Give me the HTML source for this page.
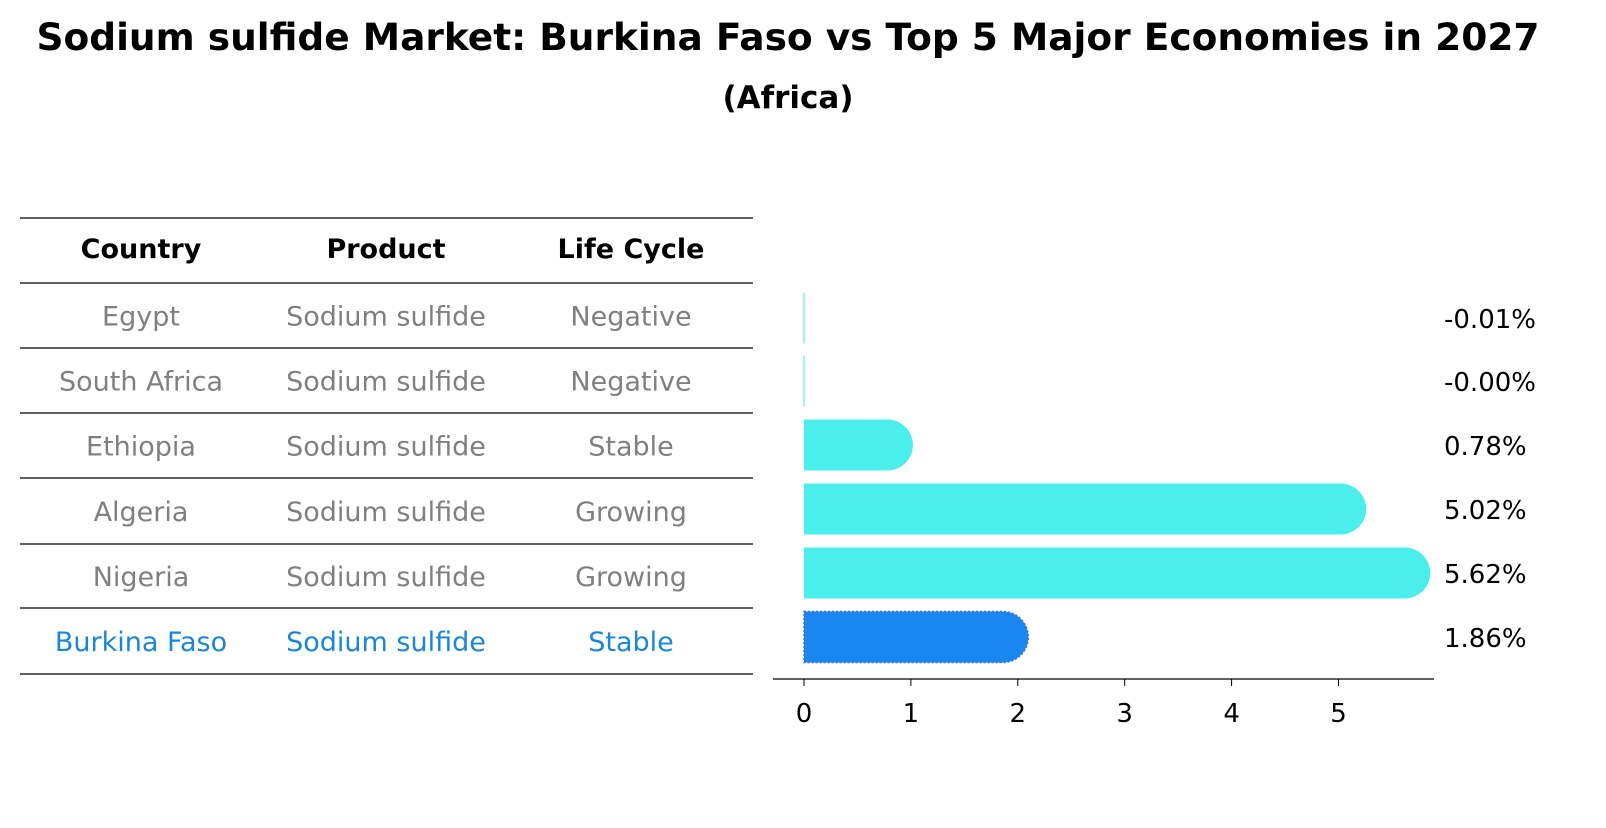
<!DOCTYPE html>
<html><head><meta charset="utf-8"><style>
body{margin:0;background:#fff;font-family:"Liberation Sans","DejaVu Sans",sans-serif;}
svg text{font-family:"DejaVu Sans","Liberation Sans",sans-serif;}
</style></head><body>
<svg id="s" width="1606" height="823" xmlns="http://www.w3.org/2000/svg">
<text x="788" y="50" text-anchor="middle" font-size="37.5" font-weight="bold">Sodium sulfide Market: Burkina Faso vs Top 5 Major Economies in 2027</text>
<text x="788" y="108" text-anchor="middle" font-size="31" font-weight="bold">(Africa)</text>
<g id="table"></g>
<g id="bars"></g>
</svg>
<script>
const countries=["Egypt","South Africa","Ethiopia","Algeria","Nigeria","Burkina Faso"];
const products=["Sodium sulfide","Sodium sulfide","Sodium sulfide","Sodium sulfide","Sodium sulfide","Sodium sulfide"];
const lifecycles=["Negative","Negative","Stable","Growing","Growing","Stable"];
const values=[-0.01,-0.004,0.78,5.02,5.62,1.86];
const valueLabels=["-0.01%","-0.00%","0.78%","5.02%","5.62%","1.86%"];
const ticks=[0,1,2,3,4,5];
const NS="http://www.w3.org/2000/svg";
function mk(tag,attrs,parent,txt){const e=document.createElementNS(NS,tag);for(const k in attrs)e.setAttribute(k,attrs[k]);if(txt!==undefined)e.textContent=txt;parent.appendChild(e);return e;}
const tbl=document.getElementById('table');
const lineY=[218,283,348,413,478,544,608,674];
lineY.forEach(y=>{const l=mk('line',{x1:20,x2:753,y1:y,y2:y,stroke:'#000','stroke-width':1.2},tbl);

});
const colX=[141,386,631];
["Country","Product","Life Cycle"].forEach((h,i)=>{const t=mk('text',{x:colX[i],y:258,'text-anchor':'middle','font-size':27,'font-weight':'bold'},tbl,h);

});
countries.forEach((c,r)=>{const y=(lineY[r+1]+lineY[r+2])/2+10;const col=r===countries.length-1?'#1a86d8':'#808080';
[c,products[r],lifecycles[r]].forEach((v,i)=>{const t=mk('text',{x:colX[i],y:y,'text-anchor':'middle','font-size':27,fill:col},tbl,v);

});});
const bg=document.getElementById('bars');
const x0=804,k=106.9;const xs=v=>x0+v*k;
const rowC=[318,381,445,509,573,637];const bh=51;
const ax=mk('line',{x1:773,x2:1434,y1:679,y2:679,stroke:'#000','stroke-width':1.3},bg);


ticks.forEach(t=>{mk('line',{x1:xs(t),x2:xs(t),y1:679,y2:686,stroke:'#000'},bg);
const tx=mk('text',{x:xs(t),y:722,'text-anchor':'middle','font-size':26},bg,String(t));

});
values.forEach((v,i)=>{const last=i===values.length-1;const col=last?'#1a86f0':'#4aeeea';const yc=rowC[i];
const r=bh/2;
let el;
if(v<=0){el=mk('rect',{x:x0-0.5,y:yc-bh/2,width:Math.max(Math.abs(v)*k,1),height:bh,fill:col},bg);}
else{const xe=xs(v);el=mk('path',{d:`M${x0},${yc-r} H${xe} A${r},${r} 0 0 1 ${xe},${yc+r} H${x0} Z`,fill:col,stroke:last?'#3a6fd0':'none','stroke-width':last?1.5:0,'stroke-dasharray':last?'2,2':''},bg);}


const lb=mk('text',{x:1444,y:yc+10,'font-size':26},bg,valueLabels[i]);

});
</script>
</body></html>
